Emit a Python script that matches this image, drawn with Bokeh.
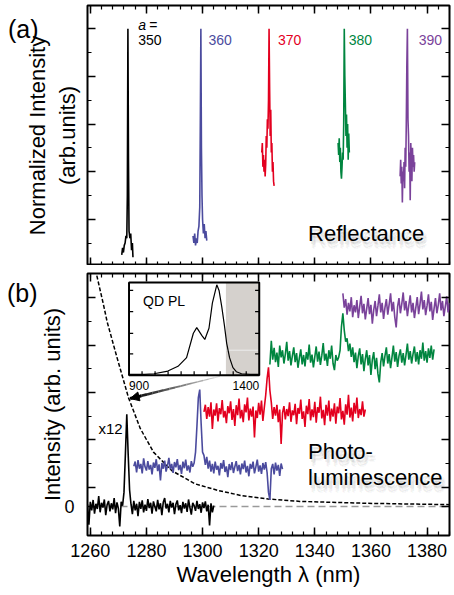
import numpy as np
from bokeh.plotting import figure
from bokeh.layouts import column
from bokeh.models import (Range1d, LinearAxis, FixedTicker, SingleIntervalTicker,
                          Label, Span, Arrow, NormalHead, CustomJSTickFormatter)
from bokeh.embed import file_html
from bokeh.resources import INLINE
from bokeh.core.properties import value

FONT = "Liberation Sans"
BLACK, BLUE, RED, GREEN, PURPLE = "#000000", "#4b4b9e", "#e3001f", "#00853f", "#7a429a"
COLORS = [BLACK, BLUE, RED, GREEN, PURPLE]

# ---------------- data ----------------
lattice_labels = ["350", "360", "370", "380", "390"]

# (a) normalized reflectance spectra
refl_black_wl = [1271.2, 1271.5, 1271.8, 1272.1, 1272.4, 1272.7, 1273.0, 1273.2, 1273.4, 1273.6,
                 1273.8, 1274.1, 1274.4, 1274.7, 1275.0, 1275.2]
refl_black = [0.05, 0.08, 0.06, 0.09, 0.10, 0.13, 0.12, 0.30, 1.00, 0.45,
              0.15, 0.12, 0.14, 0.07, 0.10, 0.04]
refl_blue_wl = [1296.6, 1296.9, 1297.2, 1297.5, 1297.8, 1298.1, 1298.4, 1298.7, 1299.0, 1299.2,
                1299.4, 1299.6, 1299.8, 1300.0, 1300.3, 1300.6, 1300.9, 1301.2, 1301.5]
refl_blue = [0.13, 0.10, 0.14, 0.09, 0.12, 0.10, 0.15, 0.17, 0.25, 0.60,
             1.00, 0.50, 0.30, 0.20, 0.14, 0.18, 0.12, 0.15, 0.11]
refl_red_wl = [1321.1, 1321.3, 1321.5, 1321.7, 1321.9, 1322.1, 1322.3, 1322.5, 1322.7, 1322.9,
               1323.1, 1323.3, 1323.5, 1323.7, 1323.9, 1324.1, 1324.3, 1324.5, 1324.7, 1324.9,
               1325.1, 1325.3, 1325.5]
refl_red = [0.48, 0.52, 0.42, 0.47, 0.40, 0.45, 0.38, 0.43, 0.55, 0.50,
            0.62, 0.58, 0.70, 1.00, 0.75, 0.55, 0.66, 0.48, 0.52, 0.40,
            0.44, 0.36, 0.34]
refl_green_wl = [1348.3, 1348.5, 1348.7, 1348.9, 1349.1, 1349.3, 1349.5, 1349.7, 1349.9, 1350.1,
                 1350.3, 1350.5, 1350.7, 1350.9, 1351.1, 1351.3, 1351.5, 1351.7, 1351.9, 1352.1,
                 1352.3]
refl_green = [0.52, 0.47, 0.54, 0.44, 0.50, 0.40, 0.37, 0.42, 0.48, 0.45,
              0.60, 1.00, 0.80, 0.68, 0.55, 0.64, 0.50, 0.60, 0.45, 0.56,
              0.48]
refl_purple_wl = [1370.4, 1370.6, 1370.8, 1371.0, 1371.2, 1371.4, 1371.6, 1371.8, 1372.0, 1372.2,
                  1372.4, 1372.6, 1372.8, 1373.0, 1373.2, 1373.4, 1373.6, 1373.8, 1374.0, 1374.2,
                  1374.4, 1374.6, 1374.8, 1375.0, 1375.2, 1375.4, 1375.6]
refl_purple = [0.38, 0.45, 0.35, 0.42, 0.27, 0.40, 0.36, 0.44, 0.33, 0.50,
               0.42, 0.60, 0.85, 1.00, 0.62, 0.55, 0.40, 0.48, 0.28, 0.52,
               0.45, 0.36, 0.50, 0.42, 0.47, 0.40, 0.44]

# (b) photoluminescence spectra, sampled every 0.5 nm from the given start
pl_step = 0.5
pl_black_start = 1259.0
pl_black = [0.05, -0.38, 0.10, -0.08, 0.14, -0.15, 0.06, -0.05, 0.22, -0.12,
            0.08, -0.02, 0.15, -0.18, 0.04, 0.12, -0.10, 0.07, -0.06, 0.18,
            -0.14, 0.09, -0.04, -0.42, 0.10, 0.02, 0.30, 1.10, 1.95, 1.10,
            0.35, 0.05, -0.16, 0.12, -0.08, 0.06, -0.20, 0.10, -0.05, 0.13,
            -0.12, 0.04, -0.09, 0.16, -0.03, 0.08, -0.15, 0.11, 0.00, -0.10,
            0.14, -0.06, 0.07, -0.18, 0.09, 0.18, -0.04, 0.06, -0.12, 0.12,
            -0.02, 0.08, -0.16, 0.05, 0.13, -0.08, 0.03, -0.14, 0.10, -0.04,
            0.07, -0.11, 0.15, -0.02, -0.17, 0.08, 0.02, -0.09, 0.12, -0.05,
            0.05, -0.13, 0.09, -0.03, 0.11, -0.10, 0.04, -0.40, 0.07, -0.12,
            0.02]
pl_blue_start = 1275.5
pl_blue = [0.85, 0.95, 0.72, 0.98, 0.80, 0.90, 0.70, 1.02, 0.84, 0.76,
           0.96, 0.78, 0.88, 0.68, 0.93, 0.82, 1.00, 0.75, 0.89, 0.55,
           0.92, 0.80, 0.97, 0.74, 0.86, 1.03, 0.79, 0.90, 0.71, 0.94,
           0.83, 1.00, 0.77, 0.88, 0.69, 0.95, 0.81, 0.99, 0.76, 0.87,
           0.72, 0.96, 0.84, 0.92, 1.15, 1.70, 2.30, 2.47, 1.75, 1.15,
           1.08, 0.88, 1.05, 0.80, 0.97, 0.74, 0.90, 0.70, 0.95, 0.78,
           0.86, 0.66, 0.92, 0.80, 0.98, 0.73, 0.85, 0.62, 0.90, 0.77,
           0.94, 0.71, 0.84, 0.96, 0.75, 0.88, 0.68, 0.91, 0.79, 0.97,
           0.72, 0.86, 0.64, 0.90, 0.80, 0.95, 0.70, 0.84, 0.99, 0.74,
           0.87, 0.69, 0.92, 0.78, 0.94, 0.72, 0.30, 0.14, 0.80, 0.90,
           0.68, 0.93, 0.76, 0.88, 0.65, 0.91, 0.79]
pl_red_start = 1300.5
pl_red = [2.00, 2.15, 1.85, 2.10, 1.90, 2.20, 1.64, 2.05, 1.92, 2.18,
          1.80, 2.08, 1.95, 2.25, 1.88, 2.02, 1.76, 2.12, 1.97, 2.22,
          1.83, 2.06, 1.70, 2.14, 1.93, 2.28, 1.86, 2.04, 1.78, 2.16,
          1.99, 2.30, 1.82, 2.07, 1.90, 2.11, 1.46, 2.03, 1.87, 2.19,
          1.94, 2.24, 1.81, 2.09, 2.35, 2.70, 2.94, 2.45, 2.20, 1.85,
          2.10, 1.92, 2.15, 1.78, 2.05, 1.32, 1.98, 2.12, 1.84, 2.06,
          1.91, 2.20, 1.79, 2.03, 1.93, 2.17, 1.74, 2.08, 1.96, 2.26,
          1.85, 2.01, 1.68, 2.13, 1.95, 2.27, 1.82, 2.05, 1.89, 2.21,
          1.77, 2.10, 1.98, 2.32, 1.86, 2.04, 1.72, 2.15, 1.92, 2.24,
          1.80, 2.07, 1.90, 2.18, 1.75, 2.11, 1.97, 2.29, 1.84, 2.02,
          1.73, 2.16, 1.94, 2.36, 1.88, 2.09, 1.80, 2.19, 1.96, 2.30,
          1.87, 2.06, 1.93, 2.22, 1.90, 2.05]
pl_green_start = 1324.0
pl_green = [3.00, 3.50, 3.10, 3.35, 3.05, 3.25, 2.95, 3.40, 3.15, 3.30,
            3.02, 3.22, 3.48, 3.08, 3.28, 2.98, 3.18, 3.36, 3.05, 3.24,
            2.93, 3.14, 3.32, 3.00, 3.20, 2.96, 3.26, 3.10, 3.42, 3.04,
            3.21, 2.94, 3.16, 3.38, 3.06, 3.27, 2.99, 3.19, 3.45, 3.08,
            3.23, 2.97, 3.30, 3.12, 3.40, 3.02, 2.88, 3.20, 3.08, 3.15,
            3.30, 3.80, 4.08, 3.72, 3.48, 3.55, 3.28, 3.44, 3.16, 3.36,
            3.05, 3.25, 2.92, 3.18, 3.34, 3.00, 3.22, 2.86, 3.12, 3.30,
            2.98, 3.20, 2.78, 3.10, 3.26, 2.90, 3.14, 2.80, 2.62, 3.05,
            3.24, 2.96, 3.18, 3.36, 3.02, 3.22, 2.92, 3.15, 3.40, 3.06,
            3.26, 2.95, 3.18, 3.32, 3.04, 3.24, 2.98, 3.20, 3.44, 3.10,
            3.28, 3.02, 3.22, 3.38, 3.06, 3.26, 3.00, 3.30, 3.12, 3.46,
            3.08, 3.28, 3.04, 3.34, 3.14, 3.40, 3.10, 3.32]
pl_purple_start = 1350.0
pl_purple = [4.50, 4.20, 4.38, 4.05, 4.30, 4.12, 4.42, 4.00, 4.25, 4.10,
             4.36, 3.98, 4.22, 4.45, 4.08, 4.28, 3.95, 4.18, 4.40, 4.06,
             4.26, 3.86, 4.15, 4.34, 4.02, 4.24, 4.48, 4.10, 4.30, 3.96,
             4.20, 4.38, 4.05, 4.27, 4.50, 4.12, 4.32, 4.00, 3.78, 4.22,
             4.40, 4.08, 4.28, 4.52, 4.14, 4.34, 4.02, 4.25, 4.46, 4.10,
             4.30, 3.98, 4.20, 4.42, 4.06, 4.28, 4.54, 4.16, 4.36, 4.04,
             4.24, 4.48, 4.12, 4.32, 3.94, 4.18, 4.40, 4.08, 4.26, 4.50,
             4.14, 4.34, 4.02, 4.22, 4.44, 4.10, 4.30, 4.05, 4.25]

# dashed decaying background (pump tail)
decay_wl = [1262.0, 1262.3, 1264.7, 1266.0, 1269.5, 1273.6, 1277.8, 1282.5, 1289.0, 1297.3,
            1305.6, 1314.0, 1323.4, 1334.7, 1358.4, 1389.0]
decay_v = [5.00, 4.88, 4.26, 3.90, 3.15, 2.30, 1.65, 1.15, 0.76, 0.48,
           0.34, 0.23, 0.16, 0.11, 0.07, 0.04]

# inset: QD PL spectrum
qd_wl = [900, 960, 996, 1049, 1088, 1121, 1147, 1160, 1180, 1191, 1207, 1220, 1237,
         1246, 1256, 1266, 1275, 1286, 1299, 1312, 1332, 1365, 1400]
qd_v = [0.0, 0.0, 0.007, 0.037, 0.09, 0.187, 0.459, 0.522, 0.433, 0.39, 0.515, 0.795, 1.0,
        0.933, 0.757, 0.552, 0.347, 0.187, 0.075, 0.03, 0.007, 0.0, 0.0]
qd_window = [1272, 1400]
inset_xticks = [950, 1000, 1050, 1100, 1150, 1200, 1250, 1300, 1350]
inset_yticks = [0.228, 0.459, 0.70, 0.937]

XR = (1259.0, 1388.0)


def blank_formatter():
    return CustomJSTickFormatter(code="return ''")


def style_axis(ax, show_labels=False):
    ax.major_tick_in = 8
    ax.major_tick_out = 0
    ax.minor_tick_in = 4
    ax.minor_tick_out = 0
    ax.major_tick_line_width = 1.5
    ax.minor_tick_line_width = 1.2
    ax.major_tick_line_color = "black"
    ax.minor_tick_line_color = "black"
    ax.axis_line_color = None
    ax.axis_label_text_font = FONT
    ax.axis_label_text_font_style = "normal"
    ax.axis_label_text_font_size = "22px"
    ax.axis_label_text_color = "black"
    ax.major_label_text_font = FONT
    ax.major_label_text_color = "black"
    if not show_labels:
        ax.formatter = blank_formatter()
        ax.major_label_text_font_size = "0px"
        ax.major_label_standoff = 0


def xticker():
    return SingleIntervalTicker(interval=20, num_minor_ticks=5)


def make_fig(frame_h, y_range, yticks, yminor, ylabel, label_standoff, bottom_labels,
             border_top, border_bottom):
    p = figure(frame_width=362, frame_height=frame_h, x_range=Range1d(*XR), y_range=y_range,
               output_backend="svg", toolbar_location=None,
               min_border_left=87, min_border_right=3, min_border_top=border_top,
               min_border_bottom=border_bottom)
    p.xgrid.visible = False
    p.ygrid.visible = False
    p.outline_line_color = "black"
    p.outline_line_width = 2
    p.background_fill_color = "white"
    p.border_fill_color = "white"
    below = p.below[0]
    left = p.left[0]
    below.ticker = xticker()
    style_axis(below, show_labels=bottom_labels)
    left.ticker = FixedTicker(ticks=yticks, minor_ticks=yminor)
    style_axis(left)
    left.axis_label = ylabel
    left.axis_label_standoff = label_standoff
    top_ax = LinearAxis(ticker=xticker())
    style_axis(top_ax)
    p.add_layout(top_ax, "above")
    right_ax = LinearAxis(ticker=FixedTicker(ticks=yticks, minor_ticks=yminor))
    style_axis(right_ax)
    p.add_layout(right_ax, "right")
    return p, below, left


def add_panel_tag(p, tick, text):
    # an outer left axis that only carries the panel letter as its single tick label
    ax = LinearAxis(ticker=FixedTicker(ticks=[tick], minor_ticks=[]),
                    formatter=CustomJSTickFormatter(code="return '%s'" % text))
    ax.major_tick_in = 0
    ax.major_tick_out = 0
    ax.minor_tick_in = 0
    ax.minor_tick_out = 0
    ax.axis_line_color = None
    ax.major_tick_line_color = None
    ax.major_label_text_font = FONT
    ax.major_label_text_font_size = "25px"
    ax.major_label_text_color = "black"
    ax.major_label_standoff = 0
    p.add_layout(ax, "left")


def label(p, x, y, text, color="black", size="14px", align="left", style="normal",
          baseline="middle", **kw):
    p.add_layout(Label(x=x, y=y, text=text, text_color=color, text_font=FONT,
                       text_font_size=size, text_align=align, text_font_style=style,
                       text_baseline=baseline, **kw))


def shadow_label(p, x, y, text):
    for dx, dy, a in [(1, -3, 0.10), (3, -4, 0.08), (4, -6, 0.06), (2, -7, 0.06), (4, -3, 0.05),
                      (3, -8, 0.04)]:
        p.add_layout(Label(x=x, y=y, text=text, x_offset=dx, y_offset=dy, text_color="#505050",
                           text_alpha=a, text_font=FONT, text_font_size="22px",
                           text_baseline="middle"))
    label(p, x, y, text, size="22px")


# ---------------- (a) reflectance ----------------
top, _, ty = make_fig(260, Range1d(0.0055, 1.098), [0.2, 0.4, 0.6, 0.8, 1.0],
                      [0.1, 0.3, 0.5, 0.7, 0.9], "Normalized Intensity\n(arb.units)", -75, False, 5, 0)
# the panel letter is carried by the left axis as the label of its top tick
ty.formatter = CustomJSTickFormatter(code="return tick == 1 ? '(a)' : ''")
ty.major_label_text_font_size = "25px"
ty.major_label_standoff = 49

refl = [(refl_black_wl, refl_black), (refl_blue_wl, refl_blue), (refl_red_wl, refl_red),
        (refl_green_wl, refl_green), (refl_purple_wl, refl_purple)]
for (wl, v), c in zip(refl, COLORS):
    top.line(wl, v, line_color=c, line_width=1.6)

label_x = [1277.1, 1302.1, 1326.9, 1352.1, 1377.0]
for lx, t, c in zip(label_x, lattice_labels, COLORS):
    label(top, lx, 0.951, t, color=c)
label(top, 1277.1, 1.018, "a", style="italic")
label(top, 1281.0, 1.018, "=")
shadow_label(top, 1337.6, 0.14, "Reflectance")

# ---------------- (b) photoluminescence ----------------
bot, bx, by = make_fig(262, Range1d(-0.61, 4.92), [0.0, 0.41, 1.41, 2.41, 3.41, 4.41],
                       [0.91, 1.91, 2.91, 3.91, 4.91], "Intensity (arb. units)", -4, True, 8, 0)
bx.major_label_text_font_size = "18px"
bx.major_label_standoff = 8
bx.axis_label = "Wavelength \u03bb (nm)"
bx.axis_label_standoff = 2
by.formatter = CustomJSTickFormatter(code="return tick == 0 ? '0' : ''")
by.major_label_text_font_size = "18px"
by.major_label_standoff = 13
add_panel_tag(bot, 4.51, "(b)")

bot.add_layout(Span(location=0, dimension="width", line_color="#9a9a9a", line_dash="7 4",
                    line_width=1.5, level="underlay"))
bot.line(decay_wl, decay_v, line_color="black", line_width=1.5, line_dash="4 2")

pl = [(pl_black_start, pl_black), (pl_blue_start, pl_blue), (pl_red_start, pl_red),
      (pl_green_start, pl_green), (pl_purple_start, pl_purple)]
for (s, v), c in zip(pl, COLORS):
    wl = s + pl_step * np.arange(len(v))
    bot.line(wl, v, line_color=c, line_width=1.6)

label(bot, 1262.9, 1.64, "x12", size="15px")
shadow_label(bot, 1337.6, 1.16, "Photo-")
shadow_label(bot, 1337.6, 0.62, "luminescence")

# gradient arrow from inset to the pump tail
tail, tip = (1306.2, 2.75), (1274.2, 2.28)
n = 16
ts = np.linspace(0, 1, n + 1)
xs = tail[0] + (tip[0] - tail[0]) * ts
ys = tail[1] + (tip[1] - tail[1]) * ts
greys = [int(230 * (1 - t)) for t in ts[1:]]
bot.segment(x0=xs[:-1], y0=ys[:-1], x1=xs[1:], y1=ys[1:],
            line_color=[f"#{g:02x}{g:02x}{g:02x}" for g in greys],
            line_width=list(0.8 + 2.2 * ts[1:]))
bot.add_layout(Arrow(end=NormalHead(size=9, fill_color="black", line_color="black"),
                     x_start=xs[-3], y_start=ys[-3], x_end=tip[0], y_end=tip[1],
                     line_width=2.5, line_color="black"))

# inset
iy0, iy1 = -0.011, 1.026
ins = bot.subplot(x_source=Range1d(900, 1400), y_source=Range1d(iy0, iy1),
                  x_target=Range1d(1273.8, 1320.2), y_target=Range1d(2.77, 4.73))
ins.quad(left=[900], right=[1400], bottom=[iy0], top=[iy1], fill_color="white", line_color=None)
ins.quad(left=[qd_window[0]], right=[qd_window[1]], bottom=[iy0], top=[iy1],
         fill_color="#d5d1cd", line_color=None)
ins.segment(x0=[qd_window[0] + 2], y0=[0.27], x1=[qd_window[1] - 5], y1=[0.27],
            line_color="#ececec", line_width=1)
ins.line(qd_wl, qd_v, line_color="black", line_width=1.2)
tick_dy = 0.045
tick_dx = 16
ins.segment(x0=inset_xticks, y0=[iy0] * len(inset_xticks), x1=inset_xticks,
            y1=[iy0 + tick_dy] * len(inset_xticks), line_color="black", line_width=1.2)
ins.segment(x0=[900] * len(inset_yticks), y0=inset_yticks, x1=[900 + tick_dx] * len(inset_yticks),
            y1=inset_yticks, line_color="black", line_width=1.2)
ins.segment(x0=[1400] * len(inset_yticks), y0=inset_yticks, x1=[1400 - tick_dx] * len(inset_yticks),
            y1=inset_yticks, line_color="black", line_width=1.2)
ins.quad(left=[900], right=[1400], bottom=[iy0], top=[iy1], fill_color=None,
         line_color="black", line_width=2)
ins.text(x=[954], y=[0.82], text=["QD PL"], text_font=value(FONT), text_font_size="14px",
         text_baseline="middle", text_align="left", text_color="black")
ins.text(x=[900, 1400], y=[-0.12, -0.12], text=["900", "1400"], text_font=value(FONT),
         text_font_size="12px", text_baseline="middle", text_align=["left", "right"],
         text_color="black")

layout = column(top, bot, spacing=0)
open("out.html", "w").write(file_html(layout, INLINE))
